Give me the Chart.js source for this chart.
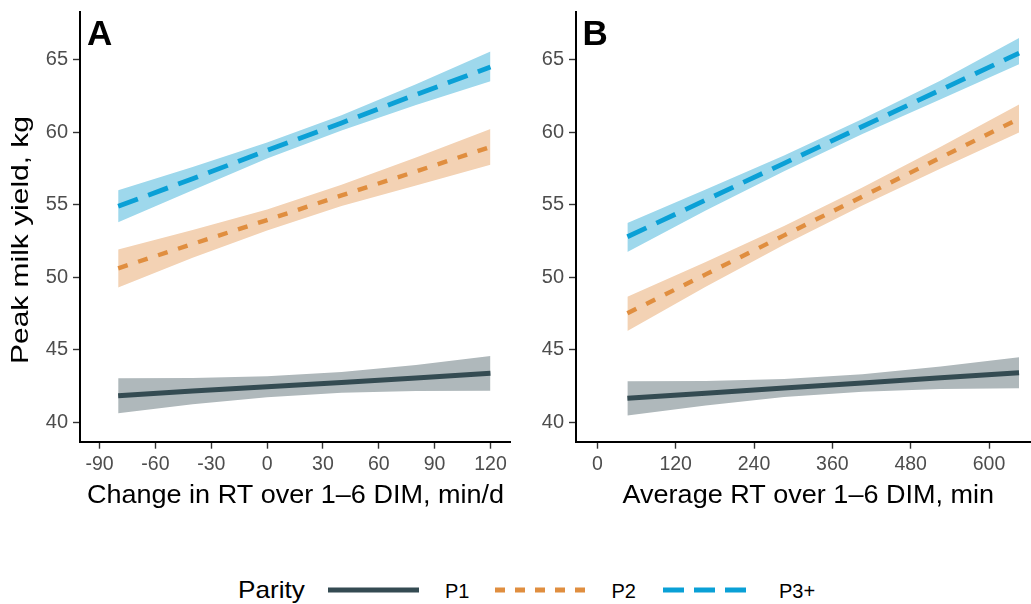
<!DOCTYPE html>
<html><head><meta charset="utf-8">
<script src="https://cdn.jsdelivr.net/npm/chart.js@4.4.1/dist/chart.umd.min.js"></script>
<style>
html,body{margin:0;padding:0;background:#fff;overflow:hidden;width:1031px;height:604px;}
canvas{position:absolute;top:0;}
#cA{left:0;}
#cB{left:515px;}
.lg{position:absolute;font-family:"Liberation Sans",Arial,sans-serif;white-space:nowrap;color:#000;transform-origin:0 0;}
svg{position:absolute;}
</style></head><body>
<canvas id="cA" width="515" height="520"></canvas>
<canvas id="cB" width="516" height="520"></canvas>
<div class="lg" style="left:237.5px;top:578px;font-size:24px;line-height:24px;transform:scaleX(1.09);">Parity</div>
<svg style="left:320px;top:580px" width="110" height="20"><line x1="8" y1="10" x2="99" y2="10" stroke="#344B52" stroke-width="5"/></svg>
<div class="lg" style="left:445px;top:581.4px;font-size:20px;line-height:20px;">P1</div>
<svg style="left:490px;top:580px" width="110" height="20"><line x1="5" y1="10" x2="95" y2="10" stroke="#E08E3F" stroke-width="5" stroke-dasharray="10 10"/></svg>
<div class="lg" style="left:611.5px;top:581.4px;font-size:20px;line-height:20px;">P2</div>
<svg style="left:655px;top:580px" width="110" height="20"><line x1="8" y1="10" x2="91" y2="10" stroke="#0AA0D6" stroke-width="5" stroke-dasharray="21 10"/></svg>
<div class="lg" style="left:779px;top:581.4px;font-size:20px;line-height:20px;">P3+</div>
<script>
// ---- data ----
const yTicks = [40, 45, 50, 55, 60, 65];
const xTicksA = [-90, -60, -30, 0, 30, 60, 90, 120];
const xTicksB = [0, 120, 240, 360, 480, 600];

const xA = [-80, -40, 0, 40, 80, 120];
const A_P1 = [41.83, 42.15, 42.45, 42.75, 43.05, 43.38];
const A_P1_lo = [40.63, 41.25, 41.73, 42.03, 42.15, 42.18];
const A_P1_hi = [43.03, 43.05, 43.17, 43.47, 43.95, 44.58];
const A_P2 = [50.62, 52.3, 53.95, 55.65, 57.3, 58.99];
const A_P2_lo = [49.3, 51.34, 53.22, 54.92, 56.34, 57.77];
const A_P2_hi = [51.92, 53.26, 54.68, 56.38, 58.26, 60.23];
const A_P3 = [54.9, 56.8, 58.75, 60.65, 62.6, 64.5];
const A_P3_lo = [53.8, 56.0, 58.2, 60.13, 61.88, 63.52];
const A_P3_hi = [56.0, 57.6, 59.3, 61.17, 63.32, 65.57];

const xB = [46, 166, 286, 406, 526, 646];
const B_P1 = [41.65, 42.0, 42.36, 42.71, 43.07, 43.42];
const B_P1_lo = [40.47, 41.15, 41.74, 42.11, 42.29, 42.35];
const B_P1_hi = [42.83, 42.85, 42.98, 43.31, 43.85, 44.49];
const B_P2 = [47.52, 50.2, 52.89, 55.57, 58.26, 60.94];
const B_P2_lo = [46.3, 49.35, 52.24, 54.95, 57.51, 59.98];
const B_P2_hi = [48.65, 51.05, 53.54, 56.19, 59.01, 61.92];
const B_P3 = [52.8, 55.33, 57.86, 60.4, 62.93, 65.46];
const B_P3_lo = [51.75, 54.61, 57.31, 59.88, 62.28, 64.7];
const B_P3_hi = [53.75, 56.05, 58.41, 60.92, 63.58, 66.5];

const xTitleA = 'Change in RT over 1\u20136 DIM, min/d';
const xTitleB = 'Average RT over 1\u20136 DIM, min';
const yTitle = 'Peak milk yield, kg';

// ---- styling ----
const FONT = '"Liberation Sans", Arial, sans-serif';
const colLine = {P1: '#344B52', P2: '#E08E3F', P3: '#0AA0D6'};
const colBand = {P1: '#AFB8BB', P2: '#F3D2B4', P3: '#9ED8EC'};

function pts(xs, ys) { return xs.map((x, i) => ({x: x, y: ys[i]})); }

function buildDatasets(xs, p1, p1lo, p1hi, p2, p2lo, p2hi, p3, p3lo, p3hi) {
  const line = (data, c, w, dash) => ({data: pts(xs, data), borderColor: c, borderWidth: w, borderDash: dash,
    pointRadius: 0, fill: false, tension: 0, borderCapStyle: 'butt'});
  const lo = (data) => ({data: pts(xs, data), borderColor: 'rgba(0,0,0,0)', borderWidth: 0, pointRadius: 0, fill: false});
  const hi = (data, c, target) => ({data: pts(xs, data), borderColor: 'rgba(0,0,0,0)', borderWidth: 0, pointRadius: 0,
    fill: {target: target}, backgroundColor: c});
  return [
    line(p1, colLine.P1, 5, []),
    line(p2, colLine.P2, 4.4, [10, 11]),
    line(p3, colLine.P3, 4.8, [21, 11]),
    lo(p1lo), hi(p1hi, colBand.P1, 3),
    lo(p2lo), hi(p2hi, colBand.P2, 5),
    lo(p3lo), hi(p3hi, colBand.P3, 7)
  ];
}

// panel tag + stretched axis titles drawn as text
const textPlugin = {
  id: 'txt',
  afterDraw(chart, args, o) {
    const ctx = chart.ctx;
    ctx.save();
    ctx.fillStyle = '#000';
    ctx.textBaseline = 'alphabetic';
    ctx.textAlign = 'left';
    ctx.font = 'bold 35px ' + FONT;
    ctx.fillText(o.tag, o.tagX, 45);
    // x title
    ctx.font = '25.5px ' + FONT;
    ctx.textAlign = 'center';
    ctx.save();
    ctx.translate(o.xtX, 503.3);
    ctx.scale(o.xtS, 1);
    ctx.fillText(o.xt, 0, 0);
    ctx.restore();
    if (o.yt) {
      ctx.font = '23.4px ' + FONT;
      ctx.save();
      ctx.translate(28.2, 240);
      ctx.rotate(-Math.PI / 2);
      ctx.scale(1.28, 1);
      ctx.fillText(o.yt, 0, 0);
      ctx.restore();
    }
    ctx.restore();
  }
};

function makeChart(id, datasets, xTicks, xMin, xMax, yWidth, padRight, txt) {
  return new Chart(document.getElementById(id), {
    type: 'line',
    data: {datasets: datasets},
    plugins: [textPlugin],
    options: {
      responsive: false,
      animation: false,
      events: [],
      layout: {padding: {top: 12, right: padRight, left: 0, bottom: 0}},
      plugins: {legend: {display: false}, tooltip: {enabled: false}, txt: txt},
      scales: {
        x: {
          type: 'linear', min: xMin, max: xMax,
          afterBuildTicks: (s) => { s.ticks = xTicks.map(v => ({value: v})); },
          afterFit: (s) => { s.height = 78.3; s.paddingLeft = 0; s.paddingRight = 0; },
          border: {display: true, color: '#000', width: 2},
          grid: {display: true, drawOnChartArea: false, drawTicks: true, tickLength: 7, tickWidth: 1.4, tickColor: '#333'},
          ticks: {color: '#4D4D4D', font: {family: FONT, size: 19.5}, padding: 4, maxRotation: 0, autoSkip: false,
            callback: (v) => String(v)},
          title: {display: false}
        },
        y: {
          type: 'linear', min: 38.66, max: 68.3,
          afterBuildTicks: (s) => { s.ticks = yTicks.map(v => ({value: v})); },
          afterFit: (s) => { s.width = yWidth; s.paddingTop = 0; s.paddingBottom = 0; },
          border: {display: true, color: '#000', width: 2},
          grid: {display: true, drawOnChartArea: false, drawTicks: true, tickLength: 7, tickWidth: 1.4, tickColor: '#333'},
          ticks: {color: '#4D4D4D', font: {family: FONT, size: 20}, padding: 5, callback: (v) => String(v)},
          title: {display: false}
        }
      }
    }
  });
}

makeChart('cA', buildDatasets(xA, A_P1, A_P1_lo, A_P1_hi, A_P2, A_P2_lo, A_P2_hi, A_P3, A_P3_lo, A_P3_hi),
  xTicksA, -100.5, 130.5, 80, 5,
  {tag: 'A', tagX: 87, xt: xTitleA, xtX: 295.5, xtS: 1.06, yt: yTitle});
makeChart('cB', buildDatasets(xB, B_P1, B_P1_lo, B_P1_hi, B_P2, B_P2_lo, B_P2_hi, B_P3, B_P3_lo, B_P3_hi),
  xTicksB, -32.7, 664.3, 61, 0,
  {tag: 'B', tagX: 67.5, xt: xTitleB, xtX: 293.3, xtS: 1.06, yt: null});
</script>
</body></html>
